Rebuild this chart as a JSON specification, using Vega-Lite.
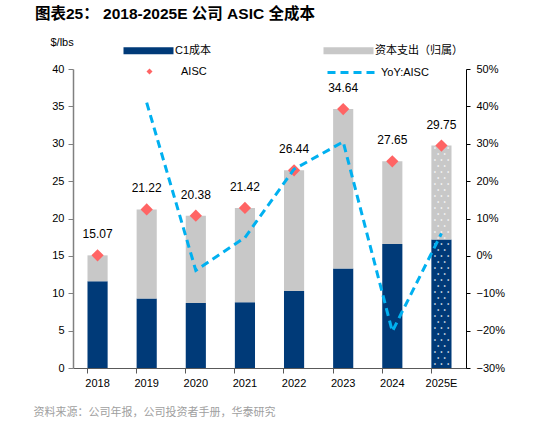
{
  "$schema": "https://vega.github.io/schema/vega-lite/v6.json",
  "width": 393,
  "height": 299,
  "autosize": {"type": "none"},
  "padding": {"left": 73, "top": 69, "right": 68, "bottom": 55},
  "background": "white",
  "title": {
    "text": "图表25：  2018-2025E 公司 ASIC 全成本",
    "anchor": "start",
    "frame": "group",
    "dx": -38,
    "offset": 14,
    "font": "Liberation Sans, Noto Sans CJK SC",
    "fontSize": 15.5,
    "fontWeight": "bold",
    "color": "#000000"
  },
  "datasets": {
    "seg": [
      {"year": "2018", "series": "C1成本", "value": 11.6},
      {"year": "2018", "series": "资本支出（归属）", "value": 3.47},
      {"year": "2019", "series": "C1成本", "value": 9.3},
      {"year": "2019", "series": "资本支出（归属）", "value": 11.92},
      {"year": "2020", "series": "C1成本", "value": 8.7},
      {"year": "2020", "series": "资本支出（归属）", "value": 11.68},
      {"year": "2021", "series": "C1成本", "value": 8.8},
      {"year": "2021", "series": "资本支出（归属）", "value": 12.62},
      {"year": "2022", "series": "C1成本", "value": 10.3},
      {"year": "2022", "series": "资本支出（归属）", "value": 16.14},
      {"year": "2023", "series": "C1成本", "value": 13.3},
      {"year": "2023", "series": "资本支出（归属）", "value": 21.34},
      {"year": "2024", "series": "C1成本", "value": 16.6},
      {"year": "2024", "series": "资本支出（归属）", "value": 11.05},
      {"year": "2025E", "series": "C1成本", "value": 17.2},
      {"year": "2025E", "series": "资本支出（归属）", "value": 12.55}
    ],
    "tot": [
      {"year": "2018", "aisc": 15.07, "yoy": null},
      {"year": "2019", "aisc": 21.22, "yoy": 0.41},
      {"year": "2020", "aisc": 20.38, "yoy": -0.039},
      {"year": "2021", "aisc": 21.42, "yoy": 0.049},
      {"year": "2022", "aisc": 26.44, "yoy": 0.232},
      {"year": "2023", "aisc": 34.64, "yoy": 0.305},
      {"year": "2024", "aisc": 27.65, "yoy": -0.202},
      {"year": "2025E", "aisc": 29.75, "yoy": 0.06}
    ]
  },
  "encoding": {
    "x": {
      "field": "year",
      "type": "nominal",
      "sort": null,
      "scale": {"paddingInner": 0.59, "paddingOuter": 0.295},
      "axis": {
        "title": "资料来源：公司年报，公司投资者手册，华泰研究",
        "titleX": -40,
        "titleY": 44,
        "titleAlign": "left",
        "titleBaseline": "middle",
        "titleAngle": 0,
        "titleFont": "Noto Sans CJK SC",
        "titleFontSize": 11,
        "titleFontWeight": "normal",
        "titleColor": "#A0A0A0",
        "labelAngle": 0,
        "labelPadding": 4,
        "bandPosition": 0,
        "tickSize": 5,
        "tickColor": "#595959",
        "domainColor": "#595959"
      }
    }
  },
  "layer": [
    {
      "layer": [
        {
          "data": {"name": "seg"},
          "mark": {"type": "bar"},
          "encoding": {
            "y": {
              "field": "value",
              "type": "quantitative",
              "stack": "zero",
              "scale": {"domain": [0, 40], "nice": false},
              "axis": {
                "title": "$/lbs",
                "titleAngle": 0,
                "titleX": -23,
                "titleY": -27,
                "titleAlign": "left",
                "titleBaseline": "middle",
                "titleFont": "Liberation Sans",
                "titleFontSize": 11,
                "titleFontWeight": "normal",
                "titleColor": "#000000",
                "values": [0, 5, 10, 15, 20, 25, 30, 35, 40],
                "labelPadding": 4,
                "tickSize": 5,
                "tickColor": "#808080",
                "domainColor": "#808080",
                "domainWidth": 1.5
              }
            },
            "color": {
              "field": "series",
              "type": "nominal",
              "scale": {
                "domain": ["C1成本", "资本支出（归属）"],
                "range": ["#003A78", "#C8C8C8"]
              },
              "legend": {
                "orient": "none",
                "legendX": 50,
                "legendY": -24,
                "direction": "horizontal",
                "columns": 2,
                "columnPadding": 111,
                "padding": 0,
                "title": null,
                "symbolSize": 100,
                "symbolType": "M-1,-0.7H9V0.7H-1Z",
                "symbolStrokeWidth": 0,
                "labelOffset": 41
              }
            },
            "order": {"field": "series", "sort": "ascending"}
          }
        },
        {
          "data": {"name": "tot"},
          "transform": [{"filter": "datum.year === '2025E'"}],
          "mark": {
            "type": "text",
            "text": ["• • •", " • • ", "• • •", " • • ", "• • •", " • • ", "• • •", " • • ", "• • •", " • • ", "• • •", " • • ", "• • •", " • • ", "• • •", " • • ", "• • •", " • • ", "• • •", " • • ", "• • •", " • • ", "• • •", " • • ", "• • •", " • • ", "• • •", " • • ", "• • •", " • • ", "• • •", " • • ", "• • •", " • • ", "• • •", " • • ", "• • •"],
            "font": "DejaVu Sans Mono",
            "fontSize": 5.5,
            "lineHeight": 6,
            "align": "center",
            "baseline": "top",
            "color": "#FFFFFF"
          },
          "encoding": {
            "y": {"field": "aisc", "type": "quantitative", "axis": {"values": [0, 5, 10, 15, 20, 25, 30, 35, 40]}}
          }
        },
        {
          "data": {"name": "tot"},
          "mark": {"type": "point", "filled": true, "size": 150, "opacity": 1, "color": "#FF6464"},
          "encoding": {
            "y": {"field": "aisc", "type": "quantitative", "axis": {"values": [0, 5, 10, 15, 20, 25, 30, 35, 40]}},
            "shape": {
              "datum": "AISC",
              "scale": {"domain": ["AISC"], "range": ["diamond"]},
              "legend": {
                "orient": "none",
                "legendX": 71,
                "legendY": -3,
                "padding": 0,
                "title": null,
                "symbolSize": 36,
                "symbolFillColor": "#FF6464",
                "symbolStrokeWidth": 0,
                "labelOffset": 26
              }
            }
          }
        },
        {
          "data": {"name": "tot"},
          "mark": {
            "type": "text",
            "dy": -21,
            "font": "Liberation Sans",
            "fontSize": 12,
            "color": "#000000",
            "baseline": "middle"
          },
          "encoding": {
            "y": {"field": "aisc", "type": "quantitative", "axis": {"values": [0, 5, 10, 15, 20, 25, 30, 35, 40]}},
            "text": {"field": "aisc", "type": "quantitative", "format": ".2f"}
          }
        }
      ]
    },
    {
      "data": {"name": "tot"},
      "transform": [{"filter": "datum.yoy != null"}],
      "mark": {"type": "line", "strokeWidth": 3, "color": "#00B0F0"},
      "encoding": {
        "y": {
          "field": "yoy",
          "type": "quantitative",
          "scale": {"domain": [-0.3, 0.5], "nice": false},
          "axis": {
            "orient": "right",
            "title": null,
            "values": [-0.3, -0.2, -0.1, 0, 0.1, 0.2, 0.3, 0.4, 0.5],
            "format": ".0%",
            "labelPadding": 6,
            "tickSize": 4,
            "tickColor": "#000000",
            "domainColor": "#000000"
          }
        },
        "strokeDash": {
          "datum": "YoY:AISC",
          "scale": {"domain": ["YoY:AISC"], "range": [[8, 5]]},
          "legend": {
            "orient": "none",
            "legendX": 253,
            "legendY": -3,
            "padding": 0,
            "title": null,
            "symbolType": "M-1,0H9",
            "symbolSize": 100,
            "symbolStrokeColor": "#00B0F0",
            "symbolStrokeWidth": 3,
            "labelOffset": 42
          }
        }
      }
    }
  ],
  "resolve": {"scale": {"y": "independent"}},
  "config": {
    "view": {"stroke": null},
    "axis": {
      "grid": false,
      "labelFlush": false,
      "labelFont": "Liberation Sans",
      "labelFontSize": 11,
      "labelColor": "#000000"
    },
    "legend": {
      "labelFont": "Liberation Sans, Noto Sans CJK SC",
      "labelFontSize": 11,
      "labelColor": "#000000"
    }
  }
}
